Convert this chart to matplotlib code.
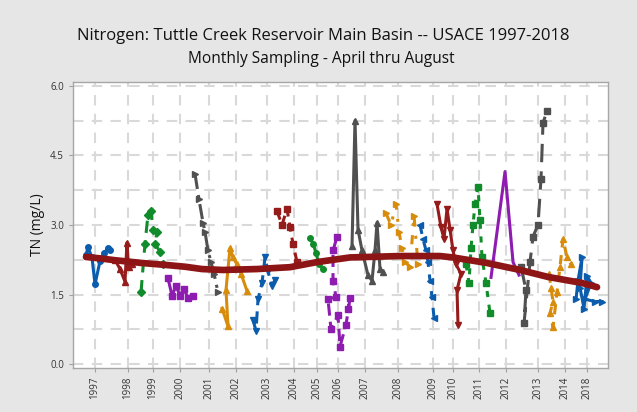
import numpy as np
import matplotlib.pyplot as plt

# sample sequence (x) and total nitrogen (mg/L) for each sampling year
yr1997_x = [2.6, 3.0, 3.8, 4.4, 5.4, 6.2, 7.0, 7.4]
yr1997_y = [2.35, 2.52, 2.30, 1.72, 2.22, 2.40, 2.50, 2.45]
yr1998_x = [8.4, 9.4, 10.4, 10.8, 11.1, 11.8]
yr1998_y = [2.25, 2.05, 1.78, 2.62, 2.10, 2.15]
yr1999_x = [13.6, 14.4, 15.0, 15.6, 16.0, 16.8, 16.4, 17.4, 18.0]
yr1999_y = [1.55, 2.6, 3.22, 3.3, 2.9, 2.85, 2.6, 2.42, 2.15]
yr2000_x = [19.0, 19.8, 20.6, 21.4, 22.2, 23.0, 24.0]
yr2000_y = [1.85, 1.48, 1.68, 1.48, 1.62, 1.42, 1.47]
yr2001_x = [24.4, 25.2, 26.0, 26.4, 27.0, 27.6, 28.2, 29.0]
yr2001_y = [4.1, 3.55, 3.05, 2.85, 2.45, 2.2, 1.95, 1.55]
yr2002_x = [29.8, 31.0, 30.6, 31.4, 32.0, 32.8, 33.6, 34.8]
yr2002_y = [1.2, 0.82, 1.6, 2.5, 2.3, 2.15, 1.95, 1.58]
yr2003_x = [36.0, 36.6, 37.0, 37.8, 38.4, 39.0, 39.8, 40.4]
yr2003_y = [0.95, 0.72, 1.4, 1.75, 2.3, 2.0, 1.68, 1.82]
yr2004_x = [40.8, 41.8, 42.8, 43.4, 44.0, 44.8]
yr2004_y = [3.3, 3.0, 3.35, 2.95, 2.6, 2.2]
yr2005_x = [47.4, 48.0, 48.6, 49.2, 50.0]
yr2005_y = [2.72, 2.6, 2.4, 2.15, 2.05]
yr2006_x = [52.8, 52.0, 52.0, 52.6, 51.0, 51.6, 53.0, 53.4, 54.6, 55.4, 55.0]
yr2006_y = [2.74, 2.45, 1.8, 1.45, 1.4, 0.75, 1.05, 0.38, 0.85, 1.42, 1.2]
yr2007_x = [55.8, 56.4, 57.0, 57.8, 59.0, 59.8, 60.4, 60.8, 61.4, 62.0]
yr2007_y = [2.55, 5.25, 2.9, 2.45, 1.92, 1.8, 2.45, 3.05, 2.05, 1.98]
yr2008_x = [62.6, 63.6, 64.6, 65.2, 65.8, 66.4, 67.4, 68.2, 69.0]
yr2008_y = [3.25, 3.0, 3.45, 2.85, 2.5, 2.2, 2.1, 3.2, 2.15]
yr2009_x = [69.4, 70.0, 70.6, 71.0, 71.4, 71.8, 72.2]
yr2009_y = [3.0, 2.7, 2.45, 2.2, 1.8, 1.45, 1.0]
yr2010_x = [72.8, 73.6, 74.2, 74.8, 75.4, 76.0, 76.6, 77.6, 76.8, 77.0]
yr2010_y = [3.45, 2.95, 2.7, 3.35, 2.9, 2.45, 2.15, 1.95, 1.6, 0.85]
yr2011_x = [78.6, 79.2, 79.6, 80.0, 80.4, 81.0, 81.4, 81.8, 82.6, 83.4]
yr2011_y = [2.15, 1.75, 2.5, 3.0, 3.45, 3.82, 3.1, 2.3, 1.75, 1.1]
yr2012_x = [83.6, 86.4, 88.0, 89.2]
yr2012_y = [1.87, 4.15, 2.2, 1.92]
yr2013_x = [89.6, 90.6, 90.2, 91.4, 92.0, 93.0, 93.6, 94.0, 94.8]
yr2013_y = [2.1, 1.6, 0.88, 2.2, 2.75, 3.0, 4.0, 5.2, 5.45]
yr2014_x = [95.2, 95.6, 96.0, 95.4, 96.0, 96.8, 97.4, 98.0, 98.8, 99.6]
yr2014_y = [1.95, 1.65, 1.35, 1.1, 0.8, 1.55, 2.1, 2.7, 2.3, 2.15]
yr2018_x = [100.6, 101.0, 101.8, 101.4, 102.2, 102.8, 103.6, 102.4, 104.4, 105.8]
yr2018_y = [1.4, 1.8, 2.3, 1.65, 1.2, 1.9, 1.75, 1.4, 1.35, 1.35]

# smoothed long-term trend
trend_x = [2.6, 5.4, 8.4, 13.8, 18.4, 22.4, 25.8, 30.0, 36.8, 43.4, 48.8,
           55.4, 65.4, 73.4, 76.0, 82.8, 89.4, 95.0, 101.8, 104.8]
trend_y = [2.31, 2.28, 2.24, 2.18, 2.14, 2.10, 2.05, 2.03, 2.05, 2.09, 2.20,
           2.30, 2.33, 2.33, 2.30, 2.18, 2.03, 1.88, 1.75, 1.66]

year_labels = ['1997', '1998', '1999', '2000', '2001', '2002', '2003', '2004',
               '2005', '2006', '2007', '2008', '2009', '2010', '2011', '2012',
               '2013', '2014', '2018']
year_ticks = [4.4, 11, 16, 21.4, 27.2, 32.6, 38.8, 44.2, 48.8, 53, 58.4, 65,
              72, 76, 81.2, 86.6, 93, 98.4, 102.8]

BLUE = '#0B5CAD'
RED = '#961B1B'
GREEN = '#118C2B'
PURPLE = '#8E1CB0'
GRAY = '#505050'
ORANGE = '#D88C0C'

# (x, y, colour, linestyle, marker) per year
series = [
    (yr1997_x, yr1997_y, BLUE, '-', 'o'),
    (yr1998_x, yr1998_y, RED, '-', '^'),
    (yr1999_x, yr1999_y, GREEN, (0, (4, 2.5)), 'D'),
    (yr2000_x, yr2000_y, PURPLE, '-', 's'),
    (yr2001_x, yr2001_y, GRAY, (0, (5, 2, 1, 2)), '>'),
    (yr2002_x, yr2002_y, ORANGE, '-', '^'),
    (yr2003_x, yr2003_y, BLUE, (0, (4, 2)), 'v'),
    (yr2004_x, yr2004_y, RED, (0, (3, 2)), 's'),
    (yr2005_x, yr2005_y, GREEN, '-', 'o'),
    (yr2006_x, yr2006_y, PURPLE, (0, (4, 2)), 's'),
    (yr2007_x, yr2007_y, GRAY, '-', '^'),
    (yr2008_x, yr2008_y, ORANGE, (0, (3, 3, 1, 3)), '>'),
    (yr2009_x, yr2009_y, BLUE, (0, (3, 2.5)), '<'),
    (yr2010_x, yr2010_y, RED, '-', 'v'),
    (yr2011_x, yr2011_y, GREEN, (0, (2, 2.5)), 's'),
    (yr2012_x, yr2012_y, PURPLE, '-', None),
    (yr2013_x, yr2013_y, GRAY, (0, (6, 3)), 's'),
    (yr2014_x, yr2014_y, ORANGE, (0, (3, 2.5)), '^'),
    (yr2018_x, yr2018_y, BLUE, '-', '>'),
]

plt.rcParams['font.family'] = ['Open Sans', 'DejaVu Sans']

fig = plt.figure(figsize=(6.37, 4.12), dpi=100)
fig.patch.set_facecolor('#E6E6E6')
ax = fig.add_axes([0.1146, 0.107, 0.8399, 0.694])
ax.set_facecolor('white')

# grid: every 0.75 mg/L and at each year tick
grid_kw = dict(color='#D9D9D9', lw=1.5, linestyle=(0, (5, 4)), zorder=0)
for gy in np.arange(0, 6.01, 0.75):
    ax.axhline(gy, **grid_kw)
for gx in year_ticks:
    ax.axvline(gx, **grid_kw)

for xs, ys, col, ls, mk in series:
    ax.plot(xs, ys, color=col, linestyle=ls, lw=2.2, marker=mk, ms=4,
            mec=col, mfc=col, zorder=3)

ax.plot(trend_x, trend_y, color='#8E1515', lw=4.8, solid_capstyle='round',
        zorder=4)

ax.set_xlim(0, 107)
ax.set_ylim(-0.08, 6.08)
ax.set_yticks([0.0, 1.5, 3.0, 4.5, 6.0])
ax.set_yticklabels(['0.0', '1.5', '3.0', '4.5', '6.0'], fontsize=7)
ax.set_xticks(year_ticks)
ax.set_xticklabels(year_labels, rotation=90, fontsize=7)
ax.tick_params(axis='both', colors='#A0A0A0', length=3, width=0.8,
               labelcolor='#333333')

for s in ax.spines.values():
    s.set_color('#A6A6A6')
    s.set_linewidth(1.0)

ax.set_ylabel('TN (mg/L)', fontsize=10, color='#111111', labelpad=4)

fig.text(0.508, 0.913, 'Nitrogen: Tuttle Creek Reservoir Main Basin -- USACE 1997-2018',
         ha='center', va='center', fontsize=12, color='#111111')
fig.text(0.505, 0.856, 'Monthly Sampling - April thru August',
         ha='center', va='center', fontsize=11.2, color='#111111')

plt.savefig('out.png', dpi=100, facecolor=fig.get_facecolor())
